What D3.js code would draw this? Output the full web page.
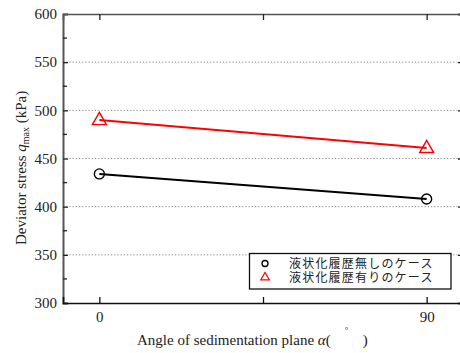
<!DOCTYPE html>
<html>
<head>
<meta charset="utf-8">
<script src="https://cdn.jsdelivr.net/npm/d3@7/dist/d3.min.js"></script>
<style>
  html, body { margin: 0; padding: 0; background: #fff; overflow: hidden; }
  svg { display: block; }
</style>
</head>
<body>
<svg id="chart" width="460" height="353"></svg>
<script>
// Sedimentation plane angle (degrees)
const angles = [0, 90];
// Peak deviator stress q_max (kPa)
const noHistory = [434, 408];     // 液状化履歴無しのケース
const withHistory = [490, 461];   // 液状化履歴有りのケース
const seriesNames = ["液状化履歴無しのケース", "液状化履歴有りのケース"];
const yTicks = [300, 350, 400, 450, 500, 550, 600];
const xTicks = [0, 90];

const svg = d3.select("#chart");
const m = { left: 63, top: 14, right: 463, bottom: 303 };

const x = d3.scaleLinear().domain([-10, 100]).range([m.left, m.right]);
const y = d3.scaleLinear().domain([300, 600]).range([m.bottom, m.top]);

const serif = "'Liberation Serif', 'Times New Roman', serif";

// dotted gridlines
svg.append("g").selectAll("line")
  .data(yTicks.filter(v => v > 300 && v < 600))
  .join("line")
  .attr("x1", m.left).attr("x2", m.right)
  .attr("y1", d => y(d)).attr("y2", d => y(d))
  .attr("stroke", "#888").attr("stroke-width", 1)
  .attr("stroke-dasharray", "1.2,2");

// left axis with inward ticks
const yAxis = d3.axisLeft(y).tickValues(yTicks).tickSize(-5).tickPadding(6);
const gy = svg.append("g").attr("transform", `translate(${m.left},0)`).call(yAxis);
gy.select(".domain").attr("stroke", "#555").attr("stroke-width", 2);
gy.selectAll(".tick line").attr("stroke", "#222").attr("stroke-width", 1.3);
gy.selectAll(".tick text").attr("font-family", serif).attr("font-size", 15).attr("fill", "#222");

// minor y ticks
const minor = d3.range(325, 600, 50);
svg.append("g").selectAll("line").data(minor).join("line")
  .attr("x1", m.left).attr("x2", m.left + 4)
  .attr("y1", d => y(d)).attr("y2", d => y(d))
  .attr("stroke", "#222").attr("stroke-width", 1.3);

// right axis (inward ticks)
const yAxisR = d3.axisRight(y).tickValues(yTicks).tickSize(-5).tickFormat("");
const gyr = svg.append("g").attr("transform", `translate(${m.right},0)`).call(yAxisR);
gyr.select(".domain").attr("stroke", "#333").attr("stroke-width", 1.5);
gyr.selectAll(".tick line").attr("stroke", "#222").attr("stroke-width", 1.3);

// bottom axis
const xAxis = d3.axisBottom(x).tickValues([0, 45, 90]).tickSize(-6).tickPadding(8)
  .tickFormat(d => xTicks.includes(d) ? d : "");
const gx = svg.append("g").attr("transform", `translate(0,${m.bottom})`).call(xAxis);
gx.select(".domain").attr("stroke", "#111").attr("stroke-width", 1.6);
gx.selectAll(".tick line").attr("stroke", "#111").attr("stroke-width", 1.3);
gx.selectAll(".tick text").attr("font-family", serif).attr("font-size", 15).attr("fill", "#222");

// top axis
const xAxisT = d3.axisTop(x).tickValues([0, 45, 90]).tickSize(-6).tickFormat("");
const gxt = svg.append("g").attr("transform", `translate(0,${m.top})`).call(xAxisT);
gxt.select(".domain").attr("stroke", "#555").attr("stroke-width", 1.6);
gxt.selectAll(".tick line").attr("stroke", "#222").attr("stroke-width", 1.3);

// series
const series = [
  { values: noHistory, color: "#000", shape: "circle" },
  { values: withHistory, color: "#ff0000", shape: "triangle" }
];
const line = d3.line().x(d => x(d[0])).y(d => y(d[1]));
const triPath = (cx, cy, s) => {
  const h = s * 0.87;
  return `M${cx},${cy - h * 0.62}L${cx + s / 2},${cy + h * 0.38}L${cx - s / 2},${cy + h * 0.38}Z`;
};

series.forEach(s => {
  const pts = angles.map((a, i) => [a, s.values[i]]);
  svg.append("path").datum(pts).attr("d", line)
    .attr("fill", "none").attr("stroke", s.color).attr("stroke-width", 2);
  if (s.shape === "circle") {
    svg.append("g").selectAll("circle").data(pts).join("circle")
      .attr("cx", d => x(d[0])).attr("cy", d => y(d[1])).attr("r", 5)
      .attr("fill", "none").attr("stroke", s.color).attr("stroke-width", 1.4);
  } else {
    svg.append("g").selectAll("path").data(pts).join("path")
      .attr("d", d => triPath(x(d[0]), y(d[1]), 14))
      .attr("fill", "none").attr("stroke", s.color).attr("stroke-width", 1.4);
  }
});

// legend
const lg = svg.append("g");
lg.append("rect").attr("x", 249.5).attr("y", 253.5).attr("width", 201.5).attr("height", 35.5)
  .attr("fill", "#fff").attr("stroke", "#111").attr("stroke-width", 1.3);
lg.append("circle").attr("cx", 265).attr("cy", 263.5).attr("r", 3)
  .attr("fill", "none").attr("stroke", "#000").attr("stroke-width", 1.3);
lg.append("path").attr("d", triPath(265, 277, 8.5))
  .attr("fill", "none").attr("stroke", "#ff0000").attr("stroke-width", 1.2);
lg.selectAll("text").data(seriesNames).join("text")
  .attr("x", 289).attr("y", (d, i) => 268 + i * 13.5)
  .attr("font-family", "'Noto Sans CJK JP', sans-serif").attr("font-size", 12)
  .attr("letter-spacing", 1.2).attr("fill", "#222").text(d => d);

// y axis title, reading upward from y = 245
const yt = svg.append("text")
  .attr("transform", "translate(26,245) rotate(-90)")
  .attr("text-anchor", "start").attr("font-family", serif).attr("font-size", 15).attr("fill", "#222");
yt.append("tspan").text("Deviator stress ");
yt.append("tspan").attr("font-style", "italic").text("q");
yt.append("tspan").attr("font-size", 10).attr("dy", 3).text("max");
yt.append("tspan").attr("dy", -3).text(" (kPa)");

// x axis title with a raised degree sign between widely spaced parentheses
const xt = svg.append("text")
  .attr("x", 137).attr("y", 345).attr("text-anchor", "start")
  .attr("font-family", serif).attr("font-size", 15).attr("fill", "#222");
xt.append("tspan").text("Angle of sedimentation plane ");
xt.append("tspan").attr("font-style", "italic").text("α");
xt.append("tspan").text("(");
const xEnd = 137 + xt.node().getComputedTextLength();
svg.append("text").attr("x", xEnd + 32).attr("y", 345)
  .attr("font-family", serif).attr("font-size", 15).attr("fill", "#222").text(")");
svg.append("text").attr("x", xEnd + 14).attr("y", 333)
  .attr("font-family", serif).attr("font-size", 9).attr("fill", "#222").text("°");
</script>
</body>
</html>
